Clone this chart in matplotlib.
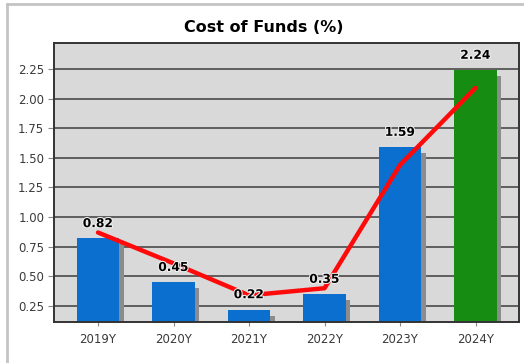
import matplotlib
matplotlib.use("Agg")
import matplotlib.pyplot as plt
import matplotlib.patheffects as pe
from matplotlib.lines import Line2D
from matplotlib.transforms import offset_copy

# Data
years = ["2019Y", "2020Y", "2021Y", "2022Y", "2023Y", "2024Y"]
cost_of_funds = [0.82, 0.45, 0.22, 0.35, 1.59, 2.24]
trend = [0.87, 0.61, 0.34, 0.40, 1.44, 2.09]
y_ticks = [0.25, 0.50, 0.75, 1.00, 1.25, 1.50, 1.75, 2.00, 2.25]

blue = "#0a6fcf"
green = "#178c12"
shadow = "#8c8c8c"

fig = plt.figure(figsize=(5.24, 3.63), dpi=100)
fig.patch.set_facecolor("white")

# light panel border (left and top edges)
fig.add_artist(Line2D([7 / 524, 7 / 524], [0, 1 - 4 / 363], transform=fig.transFigure,
                      color="#c4c4c4", lw=2))
fig.add_artist(Line2D([7 / 524, 1], [1 - 4 / 363, 1 - 4 / 363], transform=fig.transFigure,
                      color="#c4c4c4", lw=2))

ax = fig.add_axes([54 / 524, 41 / 363, 465 / 524, 279 / 363])
ax.set_facecolor("#d9d9d9")

x = list(range(len(years)))
colors = [blue] * (len(years) - 1) + [green]
width = 0.56

# drop shadows behind the bars, shifted right and down in screen space
shadow_tr = offset_copy(ax.transData, fig=fig, x=4.5, y=-6, units="dots")
ax.bar(x, cost_of_funds, width=width, color=shadow, transform=shadow_tr, zorder=2)
ax.bar(x, cost_of_funds, width=width, color=colors, zorder=3)

ax.plot(x, trend, color="#ff0a0a", lw=3.2, solid_capstyle="round",
        solid_joinstyle="round", zorder=5)

for xi, v in zip(x, cost_of_funds):
    ax.annotate(f"{v:.2f}", (xi, v), xytext=(0, 6), textcoords="offset points",
                ha="center", va="bottom", fontsize=8.8, fontweight="bold", color="black",
                zorder=6,
                path_effects=[pe.withStroke(linewidth=1.5, foreground="#f0f0f0")])

ax.set_xlim(-0.583, 5.576)
ax.set_ylim(0.115, 2.469)
ax.set_yticks(y_ticks)
ax.set_yticklabels([f"{t:.2f}" for t in y_ticks])
ax.set_xticks(x)
ax.set_xticklabels(years)
ax.yaxis.grid(True, color="#555555", lw=1.3, zorder=1)
ax.set_axisbelow(True)

ax.tick_params(axis="both", labelsize=8.5, labelcolor="#3a3a3a", color="#888888",
               direction="out")
ax.tick_params(axis="y", length=4, pad=3)
ax.tick_params(axis="x", length=3, pad=5)

for s in ax.spines.values():
    s.set_color("#333333")
    s.set_linewidth(1.4)
    s.set_zorder(7)

fig.text(264 / 524, 1 - 27 / 363, "Cost of Funds (%)", ha="center", va="center",
         fontsize=11.5, fontweight="bold", color="black")

fig.savefig("out.png", dpi=100)
